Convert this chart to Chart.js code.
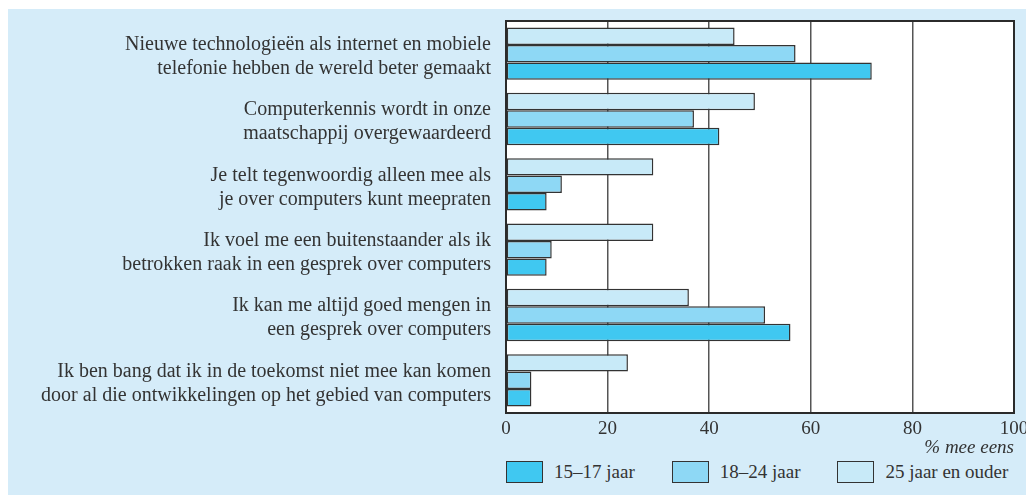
<!DOCTYPE html>
<html>
<head>
<meta charset="utf-8">
<script src="https://cdn.jsdelivr.net/npm/chart.js"></script>
<style>
  html, body { margin: 0; padding: 0; background: #ffffff; }
  .panel {
    position: absolute; left: 8px; top: 9px; width: 1018px; height: 486px;
    background: #d5ecf9;
  }
  .chart-box { position: absolute; left: 0; top: 0; width: 1018px; height: 450px; }
  .legend {
    position: absolute; left: 498px; top: 452px; display: flex; align-items: center;
    font-family: "Liberation Serif", serif; font-size: 19px; color: #333;
  }
  .legend-item { display: flex; align-items: center; margin-right: 37px; }
  .legend-item:last-child { margin-right: 0; }
  .legend-swatch {
    width: 35px; height: 20px; border: 1.5px solid #333; margin-right: 11px;
  }
</style>
</head>
<body>
<div class="panel">
  <div class="chart-box"><canvas id="surveyChart"></canvas></div>
  <div class="legend" id="legend"></div>
</div>
<script>
const statements = [
  ["Nieuwe technologieën als internet en mobiele", "telefonie hebben de wereld beter gemaakt"],
  ["Computerkennis wordt in onze", "maatschappij overgewaardeerd"],
  ["Je telt tegenwoordig alleen mee als", "je over computers kunt meepraten"],
  ["Ik voel me een buitenstaander als ik", "betrokken raak in een gesprek over computers"],
  ["Ik kan me altijd goed mengen in", "een gesprek over computers"],
  ["Ik ben bang dat ik in de toekomst niet mee kan komen", "door al die ontwikkelingen op het gebied van computers"]
];

// % mee eens per leeftijdsgroep
const age15to17 = [72, 42, 8, 8, 56, 5];
const age18to24 = [57, 37, 11, 9, 51, 5];
const age25plus = [45, 49, 29, 29, 36, 24];

const tickValues = [0, 20, 40, 60, 80, 100];
const axisTitle = "% mee eens";

const textColor = "#333333";
const serif = "'Liberation Serif', serif";

// bovenste balk in elke groep = 25+, onderste = 15-17
const series = [
  { label: "25 jaar en ouder", data: age25plus, color: "#c8eaf8" },
  { label: "18–24 jaar", data: age18to24, color: "#8ed8f5" },
  { label: "15–17 jaar", data: age15to17, color: "#40c8f1" }
];

const plotFrame = {
  id: "plotFrame",
  beforeDraw(chart) {
    const { ctx, chartArea: a } = chart;
    ctx.save();
    ctx.fillStyle = "#ffffff";
    ctx.fillRect(a.left, a.top, a.right - a.left, a.bottom - a.top);
    ctx.restore();
  },
  afterDatasetsDraw(chart) {
    const { ctx, chartArea: a } = chart;
    ctx.save();
    ctx.strokeStyle = "#2b2b2b";
    ctx.lineWidth = 2;
    ctx.strokeRect(a.left, a.top, a.right - a.left, a.bottom - a.top);
    ctx.restore();
  }
};

new Chart(document.getElementById("surveyChart"), {
  type: "bar",
  data: {
    labels: statements,
    datasets: series.map(s => ({
      label: s.label,
      data: s.data,
      backgroundColor: s.color,
      borderColor: "#333333",
      borderWidth: 1.5,
      borderSkipped: false,
      categoryPercentage: 0.8,
      barPercentage: 1.0
    }))
  },
  options: {
    indexAxis: "y",
    responsive: true,
    maintainAspectRatio: false,
    animation: false,
    layout: { padding: { top: 12, right: 12, left: 0, bottom: 0 } },
    plugins: {
      legend: { display: false },
      tooltip: { enabled: false }
    },
    scales: {
      x: {
        min: 0,
        max: 100,
        afterBuildTicks: scale => {
          scale.ticks = tickValues.map(v => ({ value: v }));
        },
        afterFit: scale => {
          scale.height = 46;
          scale.paddingLeft = 0;
          scale.paddingRight = 0;
        },
        grid: { color: "#555555", lineWidth: 1.5, drawTicks: false },
        border: { display: false },
        ticks: {
          padding: 5,
          color: textColor,
          font: { family: serif, size: 19 },
          maxRotation: 0
        },
        title: {
          display: true,
          text: axisTitle,
          align: "end",
          color: textColor,
          padding: 0,
          font: { family: serif, size: 19, style: "italic" }
        }
      },
      y: {
        afterFit: scale => {
          scale.width = 498;
          scale.paddingTop = 0;
          scale.paddingBottom = 0;
        },
        grid: { display: false, drawTicks: false },
        border: { display: false },
        ticks: {
          padding: 15,
          labelOffset: 3,
          color: textColor,
          font: { family: serif, size: 20, lineHeight: 1.2 }
        }
      }
    }
  },
  plugins: [plotFrame]
});

const legend = document.getElementById("legend");
series.slice().reverse().forEach(s => {
  legend.innerHTML += `
    <div class="legend-item">
      <div class="legend-swatch" style="background:${s.color}"></div>
      <span>${s.label}</span>
    </div>
  `;
});
</script>
</body>
</html>
